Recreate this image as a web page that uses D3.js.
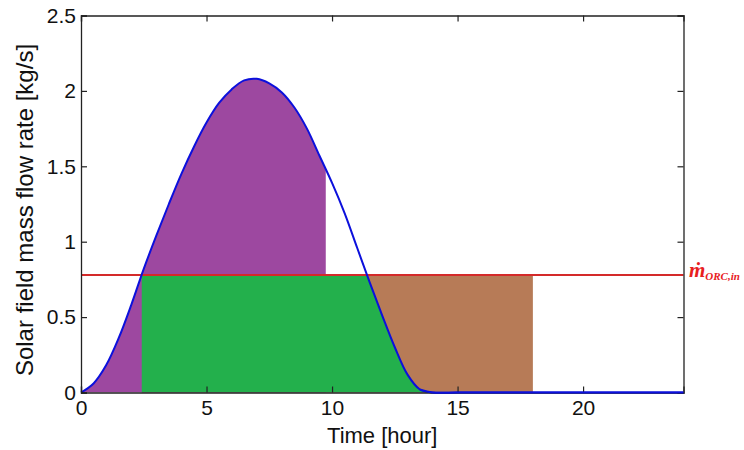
<!DOCTYPE html>
<html><head><meta charset="utf-8">
<script src="https://cdn.jsdelivr.net/npm/d3@7"></script>
<style>
html,body{margin:0;padding:0;background:#fff;}
svg{display:block;}
</style></head>
<body>
<svg id="chart" width="744" height="450"></svg>
<script>
// ---- data ----
const hours = [0,0.5,1,1.5,2,2.5,3,3.5,4,4.5,5,5.5,6,6.5,7,7.5,8,8.5,9,9.5,10,10.5,11,11.5,12,12.5,13,13.5,14,15,16,17,18,19,20,21,22,23,24];
const flowRate = [0,0.06,0.18,0.36,0.58,0.82,1.04,1.25,1.45,1.63,1.79,1.92,2.01,2.07,2.08,2.05,1.99,1.89,1.75,1.57,1.39,1.19,0.96,0.73,0.51,0.30,0.12,0.02,0,0,0,0,0,0,0,0,0,0,0];
const orcLevel = 0.78;      // m_ORC,in
const greenStart = 2.42;    // start of ORC operation
const purpleEnd = 9.75;     // end of purple region
const brownEnd = 18;        // end of brown region
const xTicks = [0,5,10,15,20];
const yTicks = [0,0.5,1,1.5,2,2.5];

const data = hours.map((h,i)=>({h, v: flowRate[i]}));

const svg = d3.select("#chart");
const L = 81, R = 683.5, T = 15.5, B = 392.5;
const x = d3.scaleLinear().domain([0,24]).range([L,R]);
const y = d3.scaleLinear().domain([0,2.5]).range([B,T]);

const defs = svg.append("defs");
defs.append("clipPath").attr("id","clipPurple").append("rect")
  .attr("x", x(0)).attr("y", y(2.5)).attr("width", x(purpleEnd)-x(0)).attr("height", y(0)-y(2.5));
defs.append("clipPath").attr("id","clipGreen").append("rect")
  .attr("x", x(greenStart)).attr("y", y(orcLevel)).attr("width", x(24)-x(greenStart)).attr("height", y(0)-y(orcLevel));

const crv = d3.curveCatmullRom.alpha(0.5);
const area = d3.area().x(d=>x(d.h)).y0(y(0)).y1(d=>y(d.v)).curve(crv);
const line = d3.line().x(d=>x(d.h)).y(d=>y(d.v)).curve(crv);

// brown region (below ORC level, above curve)
svg.append("rect")
  .attr("x", x(greenStart)).attr("y", y(orcLevel))
  .attr("width", x(brownEnd)-x(greenStart)).attr("height", y(0)-y(orcLevel))
  .attr("fill","#b77b57");
// purple region
svg.append("path").datum(data).attr("d", area).attr("fill","#9d48a0").attr("clip-path","url(#clipPurple)");
// green region
svg.append("path").datum(data).attr("d", area).attr("fill","#23b04c").attr("clip-path","url(#clipGreen)");

// ORC level line
svg.append("line").attr("x1", x(0)).attr("x2", x(24)).attr("y1", y(orcLevel)).attr("y2", y(orcLevel))
  .attr("stroke","#d42a2a").attr("stroke-width",2);

// curve
svg.append("path").datum(data).attr("d", line).attr("fill","none").attr("stroke","#0c10dc").attr("stroke-width",2);

// axes box
const font = "'Liberation Sans', Arial, sans-serif";
const gx = svg.append("g").attr("transform",`translate(0,${B})`)
  .call(d3.axisBottom(x).tickValues(xTicks).tickSize(-6).tickPadding(8).tickFormat(d3.format("d")));
const gxt = svg.append("g").attr("transform",`translate(0,${T})`)
  .call(d3.axisTop(x).tickValues(xTicks).tickSize(-6).tickFormat(""));
const gy = svg.append("g").attr("transform",`translate(${L},0)`)
  .call(d3.axisLeft(y).tickValues(yTicks).tickSize(-6).tickPadding(5).tickFormat(d=>String(d)));
const gyr = svg.append("g").attr("transform",`translate(${R},0)`)
  .call(d3.axisRight(y).tickValues(yTicks).tickSize(-6).tickFormat(""));
[gx,gxt,gy,gyr].forEach(g=>{
  g.select(".domain").attr("stroke","#222").attr("stroke-width",1.3);
  g.selectAll(".tick line").attr("stroke","#222").attr("stroke-width",1.2);
  g.selectAll("text").attr("fill","#111").style("font-family",font).style("font-size","21px");
});
// blue baseline on top of axis (curve sits on the axis)
svg.append("path").datum(data.filter(d=>d.h>=13.5)).attr("d", line).attr("fill","none").attr("stroke","#0c10dc").attr("stroke-width",2);

// axis labels
svg.append("text").attr("x",(L+R)/2).attr("y",443).attr("text-anchor","middle")
  .style("font-family",font).style("font-size","22px").attr("fill","#111").text("Time [hour]");
svg.append("text").attr("transform",`translate(33,${(T+B)/2+6}) rotate(-90)`).attr("text-anchor","middle")
  .style("font-family",font).style("font-size","24px").attr("fill","#111").text("Solar field mass flow rate [kg/s]");

// ORC label
const lab = svg.append("text").attr("x",689).attr("y",277)
  .style("font-family","'Liberation Serif','DejaVu Serif',serif").style("font-weight","bold").style("font-style","italic")
  .attr("fill","#e8201e");
lab.append("tspan").style("font-size","21px").text("ṁ");
lab.append("tspan").attr("dy",3).style("font-size","11px").text("ORC,in");
</script>
</body></html>
